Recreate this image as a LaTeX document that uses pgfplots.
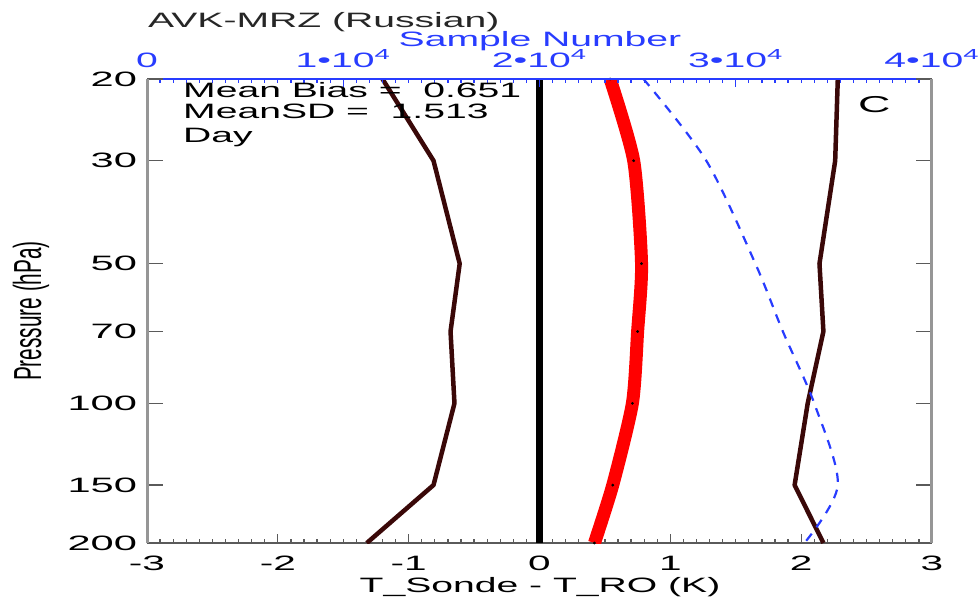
\documentclass[border=0pt]{standalone}
\usepackage{graphicx}
\usepackage{fontspec}
\setmainfont{Liberation Sans}
\usepackage{pgfplots}
\pgfplotsset{compat=1.18}

\definecolor{sdbrown}{RGB}{58,8,8}
\definecolor{nblue}{RGB}{40,60,255}
\definecolor{axgray}{RGB}{150,150,150}
\definecolor{tkgray}{RGB}{90,90,90}

% Helvetica-like text, set wide
\newcommand{\tfont}{\fontsize{20.8}{25}\selectfont}
\newcommand{\wide}[1]{\scalebox{1.88}[1]{#1}}

\begin{document}
\begin{tikzpicture}
\useasboundingbox (0pt,0pt) rectangle (978pt,599pt);

% temperature difference profiles (bottom axis)
\begin{axis}[
  at={(147pt,56pt)}, anchor=south west,
  width=785pt, height=464pt, scale only axis,
  ymode=log, ymin=20, ymax=200, y dir=reverse,
  tick align=inside,
  /pgf/number format/assume math mode=true,
  xmin=-3, xmax=3,
  axis x line*=bottom, axis y line=none,
  x axis line style={draw=tkgray, line width=2pt},
  xtick={-3,-2,-1,0,1,2,3},
  xticklabels={-3,-2,-1,0,1,2,3},
  minor x tick num=9,
  major tick length=9pt, minor tick length=4pt,
  xtick style={draw=tkgray, line width=1.3pt},
  xticklabel style={font=\tfont, anchor=base, yshift=-27pt, xscale=1.95},
  ytick=\empty,
]
\addplot[black, line width=7pt] coordinates {(0,20) (0,200)};
% bias minus SD
\addplot[sdbrown, line width=4.5pt, line join=round] coordinates {
  (-1.20,20) (-0.81,30) (-0.61,50) (-0.68,70) (-0.65,100) (-0.81,150) (-1.32,200)};
% bias plus SD
\addplot[sdbrown, line width=4.5pt, line join=round] coordinates {
  (2.28,20) (2.26,30) (2.14,50) (2.17,70) (2.05,100) (1.95,150) (2.17,200)};
% mean bias
\addplot[red, line width=13pt, smooth, tension=0.4] coordinates {
  (0.54,20) (0.72,30) (0.78,50) (0.75,70) (0.71,100) (0.56,150) (0.42,200)};
\addplot[only marks, mark=*, mark size=1.2pt, black] coordinates {
  (0.54,20) (0.72,30) (0.78,50) (0.75,70) (0.71,100) (0.56,150) (0.42,200)};
\end{axis}

% sample number (top axis)
\begin{axis}[
  at={(147pt,56pt)}, anchor=south west,
  width=785pt, height=464pt, scale only axis,
  ymode=log, ymin=20, ymax=200, y dir=reverse,
  tick align=inside,
  xmin=0, xmax=40000,
  axis x line*=top, axis y line=none,
  x axis line style={draw=nblue, line width=2.5pt},
  scaled x ticks=false,
  xtick={0,10000,20000,30000,40000},
  xticklabels={0,1\textbullet10\textsuperscript{4},2\textbullet10\textsuperscript{4},3\textbullet10\textsuperscript{4},4\textbullet10\textsuperscript{4}},
  minor x tick num=14,
  major tick length=8pt, minor tick length=4pt,
  xtick style={draw=nblue, line width=1.3pt},
  xticklabel style={font=\tfont, anchor=base, yshift=12pt, xscale=1.88, text=nblue},
  ytick=\empty,
]
\addplot[nblue, line width=2.2pt, dash pattern=on 9pt off 8pt, smooth, tension=0.5] coordinates {
  (25300,20) (28500,30) (31000,50) (32400,70) (34000,100) (35200,150) (33500,200)};
\end{axis}

% pressure axis
\begin{axis}[
  at={(147pt,56pt)}, anchor=south west,
  width=785pt, height=464pt, scale only axis,
  ymode=log, ymin=20, ymax=200, y dir=reverse,
  tick align=inside,
  xmin=-3, xmax=3,
  axis x line=none, axis y line*=box,
  y axis line style={draw=axgray, line width=3pt},
  xtick=\empty,
  ytick={20,30,50,70,100,150,200},
  yticklabels={20,30,50,70,100,150,200},
  yminorticks=false,
  major tick length=16pt,
  ytick style={draw=tkgray, line width=1.3pt},
  yticklabel style={font=\tfont, anchor=east, xshift=-3pt, xscale=2.0},
]
\end{axis}

\node[anchor=base west, font=\tfont, text=black!85, inner sep=0pt] at (148pt,571pt) {\wide{AVK-MRZ (Russian)}};
\node[anchor=base, font=\tfont, text=nblue] at (540pt,552pt) {\wide{Sample Number}};
\node[anchor=base, font=\tfont] at (540pt,6pt) {\wide{T\_Sonde - T\_RO (K)}};
\node[rotate=90, font=\tfont] at (31pt,288pt) {\scalebox{1}[1.88]{Pressure (hPa)}};

\node[anchor=base west, font=\tfont, inner sep=0pt] at (183pt,501pt) {\wide{Mean Bias =\ \ 0.651}};
\node[anchor=base west, font=\tfont, inner sep=0pt] at (183pt,480pt) {\wide{MeanSD =\ \ 1.513}};
\node[anchor=base west, font=\tfont, inner sep=0pt] at (183pt,456pt) {\wide{Day}};
\node[anchor=base west, font=\fontsize{23}{27}\selectfont, inner sep=0pt] at (858pt,486pt) {\scalebox{1.95}[1]{C}};
\end{tikzpicture}
\end{document}
